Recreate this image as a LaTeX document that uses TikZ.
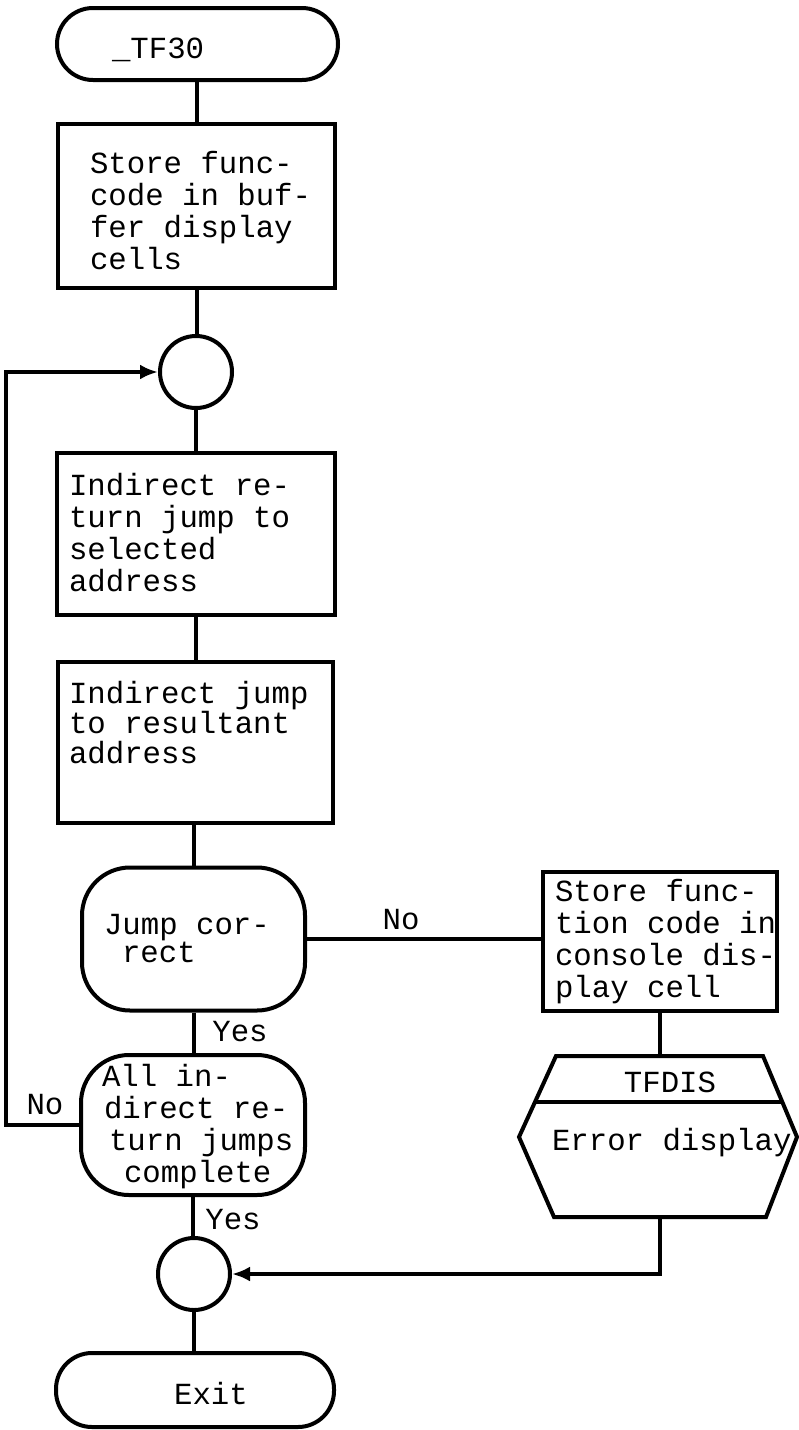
\documentclass[tikz,border=0pt]{standalone}
\usepackage{fontspec}
\newfontfamily\mono{Liberation Mono}
\usetikzlibrary{arrows.meta}
\begin{document}
\begin{tikzpicture}[x=1pt,y=-1pt,line width=4pt,
  procbox/.style={draw,rectangle,inner sep=0pt},
  termnode/.style={draw,rectangle,rounded corners=36pt,inner sep=0pt},
  decnode/.style={draw,rectangle,rounded corners=48pt,inner sep=0pt},
  junction/.style={draw,circle,minimum size=72pt,inner sep=0pt},
  txt/.style={font=\mono\fontsize{30.7}{32}\selectfont,inner sep=0pt,align=left,anchor=west},
  lbl/.style={font=\mono\fontsize{30.7}{32}\selectfont,inner sep=0pt},
  arr/.style={-{Latex[length=18pt,width=15pt]}}
]
\useasboundingbox (0,0) rectangle (799,1430);

% shapes
\node[termnode,minimum width=281pt,minimum height=72pt] (start) at (197.5,44) {};
\node[procbox,minimum width=277pt,minimum height=164pt] (b1) at (196.5,206) {};
\node[junction] (c1) at (196,372) {};
\node[procbox,minimum width=278pt,minimum height=162pt] (b2) at (196,534) {};
\node[procbox,minimum width=275pt,minimum height=161pt] (b3) at (195.5,742.5) {};
\node[decnode,minimum width=223pt,minimum height=143pt] (d1) at (193.5,939) {};
\node[procbox,minimum width=234pt,minimum height=139pt] (b4) at (660,941.5) {};
\node[decnode,minimum width=224pt,minimum height=140pt] (d2) at (193,1125) {};
\node[junction] (c2) at (194,1274) {};
\node[termnode,minimum width=278pt,minimum height=74pt] (exit) at (195,1390) {};

% display symbol (hexagon)
\coordinate (hextop) at (659,1056);
\coordinate (hexbot) at (660,1217);
\draw[line join=miter] (556,1056) -- (763,1056) -- (797,1137) -- (766,1217) -- (554,1217) -- (519,1137) -- cycle;
\draw (536,1102) -- (782,1102);

% texts
\node[txt] (t0) at (110,50) {\_TF30};
\node[txt] (t1) at (88,211) {Store func-\\code in buf-\\fer display\\cells};
\node[txt] (t2) at (67,533) {Indirect re-\\turn jump to\\selected\\address};
\node[txt,font=\mono\fontsize{30.7}{30}\selectfont] (t3) at (67,723) {Indirect jump\\to resultant\\address};
\node[txt,font=\mono\fontsize{30.7}{28}\selectfont] (t4) at (102,939) {Jump cor-\\\hspace*{18pt}rect};
\node[txt] (t5) at (553,942) {Store func-\\tion code in\\console dis-\\play cell};
\node[txt] (t6) at (100,1127) {All in-\\\hspace*{2pt}direct re-\\\hspace*{7pt}turn jumps\\\hspace*{22pt}complete};
\node[lbl] (t7) at (670,1082) {TFDIS};
\node[txt] (t8) at (550,1143) {Error display};
\node[lbl] (t9) at (211,1393) {Exit};
\node[lbl] (no1) at (401,920) {No};
\node[lbl] (yes1) at (240,1032) {Yes};
\node[lbl] (no2) at (45,1105) {No};
\node[lbl] (yes2) at (233,1220) {Yes};

% connectors
\draw (start.south -| b1.north) -- (b1.north);
\draw (b1.south) -- (b1.south |- c1.north);
\draw (c1.south) -- (c1.south |- b2.north);
\draw (b2.south) -- (b2.south |- b3.north);
\draw (b3.south -| d1.north) -- (d1.north);
\draw (d1.east) -- (d1.east -| b4.west);
\draw (d1.south) -- (d1.south |- d2.north);
\draw[arr] (d2.west) -- ++(-73,0) |- (c1.west);
\draw (d2.south) -- (d2.south |- c2.north);
\draw (b4.south) -- (b4.south |- hextop);
\draw[arr] (hexbot) |- (c2.east);
\draw (c2.south) -- (c2.south |- exit.north);
\end{tikzpicture}
\end{document}
